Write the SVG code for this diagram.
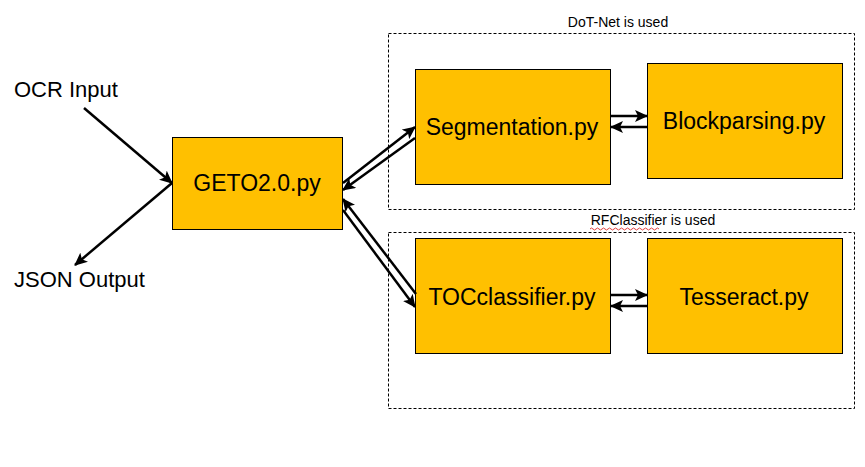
<svg xmlns="http://www.w3.org/2000/svg" width="865" height="467" viewBox="0 0 865 467">
<style>
.box{fill:#FFC000;stroke:#000;stroke-width:1}
.grp{fill:none;stroke:#000;stroke-width:1;stroke-dasharray:3,2}
.lbl{font-family:"Liberation Sans",Arial,sans-serif;font-size:23px;fill:#000;text-anchor:middle}
.big{font-family:"Liberation Sans",Arial,sans-serif;font-size:22px;fill:#000}
.small{font-family:"Liberation Sans",Arial,sans-serif;font-size:14px;fill:#000;text-anchor:middle}
.ar{fill:none;stroke:#000;stroke-width:2.5;marker-end:url(#ah)}
</style>
<defs>
<marker id="ah" markerUnits="userSpaceOnUse" markerWidth="14" markerHeight="12" refX="12" refY="6" orient="auto">
<path d="M0,0 L13,6 L0,12 L3,6 Z" fill="#000"/>
</marker>
</defs>
<rect width="865" height="467" fill="#fff"/>
<g id="group-dotnet">
<rect class="grp" x="388.5" y="33.5" width="466" height="176"/>
<text class="small" x="618" y="27">DoT-Net is used</text>
</g>
<g id="group-rf">
<rect class="grp" x="388.5" y="232.5" width="466" height="176"/>
<text class="small" x="653" y="225">RFClassifier is used</text>
<path d="M590,229 q1.5,-2 3,0 t3,0 t3,0 t3,0 t3,0 t3,0 t3,0 t3,0 t3,0 t3,0 t3,0 t3,0 t3,0 t3,0 t3,0 t3,0 t3,0 t3,0 t3,0 t3,0 t3,0 t3,0 t3,0" fill="none" stroke="#e04040" stroke-width="1"/>
</g>
<g id="ocr-input"><text class="big" x="14" y="97">OCR Input</text></g>
<g id="json-output"><text class="big" x="14" y="287">JSON Output</text></g>
<g id="geto"><rect class="box" x="172.5" y="137.5" width="170" height="92"/><text class="lbl" x="257" y="191">GETO2.0.py</text></g>
<g id="segmentation"><rect class="box" x="415.5" y="69.5" width="195" height="115"/><text class="lbl" x="512" y="135">Segmentation.py</text></g>
<g id="blockparsing"><rect class="box" x="647.5" y="63.5" width="195" height="115"/><text class="lbl" x="744" y="129">Blockparsing.py</text></g>
<g id="tocclassifier"><rect class="box" x="415.5" y="238.5" width="195" height="115"/><text class="lbl" x="512" y="305">TOCclassifier.py</text></g>
<g id="tesseract"><rect class="box" x="647.5" y="238.5" width="195" height="115"/><text class="lbl" x="744" y="305">Tesseract.py</text></g>
<g id="connectors">
<line class="ar" x1="84" y1="108" x2="172" y2="183"/>
<line class="ar" x1="172" y1="183" x2="75" y2="265"/>
<line class="ar" x1="343" y1="183" x2="415" y2="127"/>
<line class="ar" x1="415" y1="138" x2="343" y2="190"/>
<line class="ar" x1="416" y1="294" x2="343" y2="199"/>
<line class="ar" x1="343" y1="210" x2="415" y2="307"/>
<line class="ar" x1="611" y1="116" x2="647" y2="116"/>
<line class="ar" x1="647" y1="127" x2="611" y2="127"/>
<line class="ar" x1="611" y1="295" x2="647" y2="295"/>
<line class="ar" x1="647" y1="306" x2="611" y2="306"/>
</g>
</svg>
